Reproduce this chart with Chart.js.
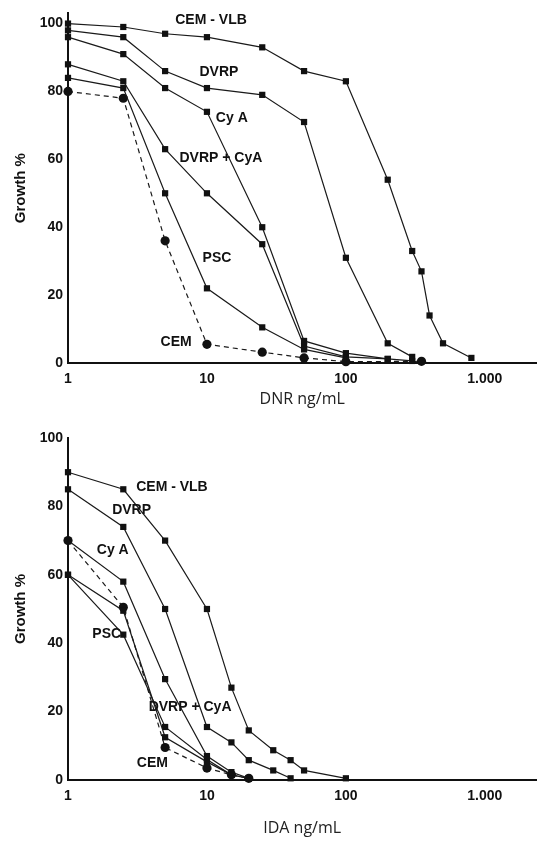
<!DOCTYPE html>
<html>
<head>
<meta charset="utf-8">
<script src="https://cdn.jsdelivr.net/npm/chart.js@4.4.1/dist/chart.umd.min.js"></script>
<style>
  html, body { margin: 0; padding: 0; background: #fff; }
  #wrap { position: relative; width: 541px; height: 844px; }
  canvas { position: absolute; left: 0; }
  #dnrChart { top: 0; width: 541px; height: 420px; }
  #idaChart { top: 420px; width: 541px; height: 424px; }
</style>
</head>
<body>
<div id="wrap">
  <canvas id="dnrChart" width="541" height="420"></canvas>
  <canvas id="idaChart" width="541" height="424"></canvas>
</div>
<script>
// DNR panel (top)
var dnrDose = [1, 2.5, 5, 10, 25, 50, 100, 200, 300, 350, 400, 500, 800];
var dnrCemVlb = [100, 99, 97, 96, 93, 86, 83, 54, 33, 27, 14, 5.8, 1.5];
var dnrDvrp = [98, 96, 86, 81, 79, 71, 31, 5.8, 1.8];
var dnrCyA = [96, 91, 81, 74, 40, 6.5, 2.9, 1.2, 0.6];
var dnrDvrpCyA = [88, 83, 63, 50, 35, 5, 1.8, 1.2];
var dnrPsc = [84, 81, 50, 22, 10.5, 4, 1.5];
var dnrCem = [80, 78, 36, 5.5, 3.2, 1.5, 0.4, null, null, 0.5];

// IDA panel (bottom)
var idaDose = [1, 2.5, 5, 10, 15, 20, 30, 40, 50, 100];
var idaCemVlb = [90, 85, 70, 50, 27, 14.5, 8.7, 5.8, 2.8, 0.5];
var idaDvrp = [85, 74, 50, 15.5, 11, 5.8, 2.8, 0.5];
var idaCyA = [70, 58, 29.5, 7, 2.3, 0.5];
var idaDvrpCyA = [60, 49.5, 12.5, 5.3, 1.5, 0.5];
var idaPsc = [60, 42.5, 15.5, 6, 1.5];
var idaCem = [70, 50.5, 9.5, 3.5, 1.5, 0.5];

var xTicks = [1, 10, 100, 1000];
var yTicks = [0, 20, 40, 60, 80, 100];

// curve labels written inside the plot: text, dose, growth
var dnrNotes = [
    ['CEM - VLB', 10.7, 101],
    ['DVRP', 12.2, 85.6],
    ['Cy A', 15.1, 72],
    ['DVRP + CyA', 12.6, 60.3],
    ['PSC', 11.8, 31],
    ['CEM', 6.0, 6.2]
];
var idaNotes = [
    ['CEM - VLB', 5.6, 85.7],
    ['DVRP', 2.87, 79],
    ['Cy A', 2.1, 67.3],
    ['PSC', 1.9, 42.7],
    ['DVRP + CyA', 7.56, 21.3],
    ['CEM', 4.05, 5]
];

Chart.defaults.font.family = '"Liberation Sans", Arial, sans-serif';
Chart.defaults.color = '#111';

function squareLine(data) {
    return {
        data: data,
        borderColor: '#1a1a1a',
        backgroundColor: '#111',
        borderWidth: 1.2,
        pointStyle: 'rect',
        pointRadius: 4.4,
        pointBorderWidth: 0,
        tension: 0,
        spanGaps: true,
        clip: false
    };
}

function circleLine(data) {
    return {
        data: data,
        borderColor: '#1a1a1a',
        backgroundColor: '#111',
        borderWidth: 1.2,
        borderDash: [5, 4],
        pointStyle: 'circle',
        pointRadius: 4.6,
        pointBorderWidth: 0,
        tension: 0,
        spanGaps: true,
        clip: false
    };
}

var notesPlugin = {
    id: 'curveNotes',
    afterDatasetsDraw: function (chart) {
        var notes = chart.options.plugins.curveNotes.notes;
        var ctx = chart.ctx;
        ctx.save();
        ctx.fillStyle = '#111';
        ctx.font = 'bold 14px "Liberation Sans", Arial, sans-serif';
        ctx.textAlign = 'center';
        ctx.textBaseline = 'middle';
        notes.forEach(function (n) {
            var x = chart.scales.x.getPixelForValue(n[1]);
            var y = chart.scales.y.getPixelForValue(n[2]);
            ctx.fillText(n[0], x, y);
        });
        ctx.restore();
    }
};

function makeChart(id, doses, series, notes, xTitle, yMax, plotTop, axisHeight, titlePad) {
    var ctx = document.getElementById(id).getContext('2d');
    return new Chart(ctx, {
        type: 'line',
        data: {
            labels: doses,
            datasets: [
                squareLine(series[0]),
                squareLine(series[1]),
                squareLine(series[2]),
                squareLine(series[3]),
                squareLine(series[4]),
                circleLine(series[5])
            ]
        },
        options: {
            responsive: false,
            animation: false,
            layout: { padding: { top: plotTop, right: 1, left: 0, bottom: 0 } },
            plugins: {
                legend: { display: false },
                tooltip: { enabled: false },
                curveNotes: { notes: notes }
            },
            scales: {
                x: {
                    type: 'logarithmic',
                    min: 1,
                    max: 2350,
                    grid: { display: false, drawTicks: false },
                    border: { display: true, color: '#111', width: 2 },
                    afterBuildTicks: function (scale) {
                        scale.ticks = xTicks.map(function (v) { return { value: v }; });
                    },
                    afterFit: function (scale) { scale.height = axisHeight; },
                    ticks: {
                        padding: 8,
                        autoSkip: false,
                        maxRotation: 0,
                        font: { size: 14, weight: 'bold' },
                        callback: function (v) { return v === 1000 ? '1.000' : String(v); }
                    },
                    title: {
                        display: true,
                        text: xTitle,
                        font: { family: '"Open Sans", sans-serif', size: 16 },
                        color: '#222',
                        padding: { top: 0, bottom: titlePad }
                    }
                },
                y: {
                    min: 0,
                    max: yMax,
                    grid: { display: false, drawTicks: false },
                    border: { display: true, color: '#111', width: 2 },
                    afterBuildTicks: function (scale) {
                        scale.ticks = yTicks.map(function (v) { return { value: v }; });
                    },
                    afterFit: function (scale) { scale.width = 68; },
                    ticks: {
                        padding: 5,
                        font: { size: 14, weight: 'bold' }
                    },
                    title: {
                        display: true,
                        text: 'Growth %',
                        font: { size: 15, weight: 'bold' },
                        padding: { top: 12, bottom: 0 }
                    }
                }
            }
        },
        plugins: [notesPlugin]
    });
}

makeChart('dnrChart', dnrDose,
    [dnrCemVlb, dnrDvrp, dnrCyA, dnrDvrpCyA, dnrPsc, dnrCem],
    dnrNotes, 'DNR ng/mL', 103, 12, 57, 11);

makeChart('idaChart', idaDose,
    [idaCemVlb, idaDvrp, idaCyA, idaDvrpCyA, idaPsc, idaCem],
    idaNotes, 'IDA ng/mL', 100, 18, 64, 6);
</script>
</body>
</html>
